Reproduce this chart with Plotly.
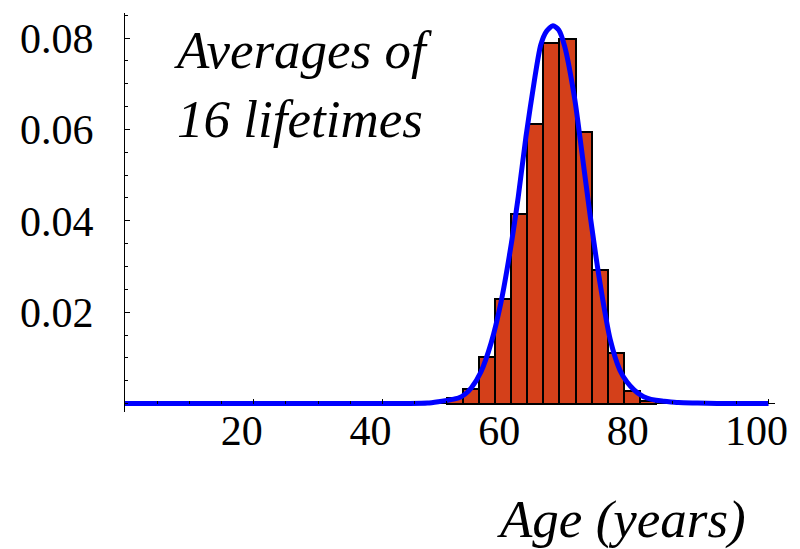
import plotly.graph_objects as go

# Histogram of averages of 16 lifetimes (bin width 2.5 years)
bin_starts = [50, 52.5, 55, 57.5, 60, 62.5, 65, 67.5, 70, 72.5, 75, 77.5, 80]
bin_width = 2.5
bin_heights = [0.0011, 0.0032, 0.0101, 0.0228, 0.0415, 0.0612, 0.0789,
               0.0798, 0.0595, 0.0292, 0.0110, 0.0027, 0.0006]

# Fitted density curve
curve_x = [0, 5, 10, 15, 20, 25, 30, 35, 40, 44, 47, 48.7, 50.5, 51.8, 52.8, 53.8,
           55.3, 56.9, 58.4, 59.8, 61.1, 62.3, 63.7, 64.6, 65.5, 66.5, 67.4,
           68.3, 69.9, 70.8, 72.3, 73.9, 75.4, 76.9, 78.0, 79.1, 80.1, 81.1,
           82.5, 83.8, 86, 89, 92, 96, 100]
curve_y = [0, 0, 0, 0, 0, 0, 0, 0, 0, 0, 0.0001, 0.0004, 0.0008, 0.0012, 0.0020,
           0.0034, 0.0069, 0.0133, 0.0220, 0.0330, 0.0452, 0.0584, 0.0715,
           0.0785, 0.0815, 0.0827, 0.0818, 0.0783, 0.0665, 0.0571, 0.0409,
           0.0256, 0.0140, 0.0073, 0.0047, 0.0030, 0.0019, 0.0012, 0.0007,
           0.0005, 0.0002, 0.0001, 0, 0, 0]

x_ticks = [20, 40, 60, 80, 100]
y_ticks = [0.02, 0.04, 0.06, 0.08]

x_range = [0, 101]
y_range = [-0.00186, 0.0855]

font_family = "'Liberation Serif', 'Times New Roman', Times, serif"

fig = go.Figure()
fig.add_trace(go.Bar(
    x=bin_starts, y=bin_heights, width=bin_width, offset=0,
    marker=dict(color="rgb(212,64,26)", line=dict(color="black", width=2)),
    showlegend=False,
))
fig.add_trace(go.Scatter(
    x=curve_x, y=curve_y, mode="lines",
    line=dict(color="#0000FF", width=5, shape="spline", smoothing=0.7),
    showlegend=False,
))

x_pos = (0 - y_range[0]) / (y_range[1] - y_range[0])

fig.update_layout(
    width=800, height=549,
    margin=dict(l=125, r=21, t=13, b=137),
    paper_bgcolor="white", plot_bgcolor="white",
    bargap=0,
    font=dict(family=font_family, color="black", size=42),
    xaxis=dict(
        range=x_range, tickvals=x_ticks, ticktext=[str(v) for v in x_ticks],
        showgrid=False, zeroline=False, showline=False,
        ticks="inside", ticklen=5, tickcolor="black", tickwidth=1,
        anchor="free", position=x_pos,
        ticklabelshift=-12, ticklabelstandoff=-2,
        minor=dict(tickmode="linear", tick0=0, dtick=5, ticks="inside",
                   ticklen=3, tickcolor="black"),
        tickfont=dict(size=42, family=font_family),
    ),
    yaxis=dict(
        range=y_range, tickvals=y_ticks, ticktext=["0.02", "0.04", "0.06", "0.08"],
        showgrid=False, zeroline=True, zerolinecolor="black", zerolinewidth=1,
        showline=True, linecolor="black", linewidth=1,
        ticks="inside", ticklen=5, tickcolor="black", tickwidth=1,
        ticklabelstandoff=22,
        minor=dict(tickmode="linear", tick0=0, dtick=0.005, ticks="inside",
                   ticklen=3, tickcolor="black"),
        tickfont=dict(size=42, family=font_family),
    ),
    annotations=[
        dict(text="Averages of<br>16 lifetimes",
             xref="paper", yref="paper", x=0.073, y=0.82,
             xanchor="left", yanchor="middle", align="left", showarrow=False,
             font=dict(size=53, family=font_family, color="black", style="italic")),
        dict(text="Age (years)",
             xref="paper", yref="paper", x=0.959, y=-0.27,
             xanchor="right", yanchor="middle", showarrow=False,
             font=dict(size=53, family=font_family, color="black", style="italic")),
    ],
)

fig.write_html("out.html")
